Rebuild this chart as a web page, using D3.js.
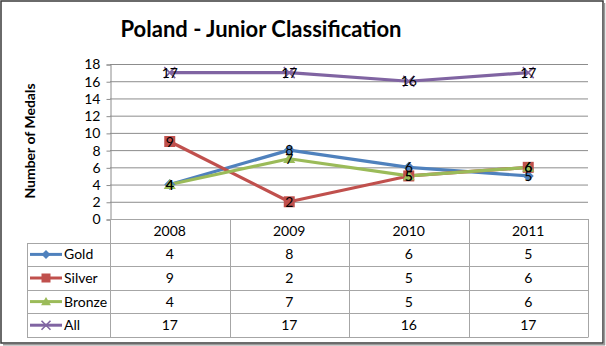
<!DOCTYPE html>
<html><head><meta charset="utf-8">
<script src="https://cdn.jsdelivr.net/npm/d3@7"></script>
<style>body{margin:0;background:#fff}svg{display:block}</style>
</head><body>
<script>
const title = "Poland - Junior Classification";
const yTitle = "Number of Medals";
const years = ["2008","2009","2010","2011"];
const seriesNames = ["Gold","Silver","Bronze","All"];
const gold = [4,8,6,5];
const silver = [9,2,5,6];
const bronze = [4,7,5,6];
const all = [17,17,16,17];
const yTicks = [0,2,4,6,8,10,12,14,16,18];
const colors = ["#4F81BD","#C0504D","#9BBB59","#8064A2"];
const markers = ["diamond","square","triangle","x"];
const seriesValues = [gold, silver, bronze, all];

const W=606,H=346;
const font = "Lato, 'Open Sans', sans-serif";
const svg = d3.select("body").append("svg").attr("width",W).attr("height",H);
svg.append("rect").attr("width",W).attr("height",H).attr("fill","#fff");
// frame
svg.append("rect").attr("x",1).attr("y",1).attr("width",602).attr("height",342)
  .attr("fill","none").attr("stroke","#3a3a3a").attr("stroke-width",1.5);
svg.append("line").attr("x1",604.5).attr("x2",604.5).attr("y1",3).attr("y2",345).attr("stroke","#9a9a9a").attr("stroke-width",1.5);
svg.append("line").attr("x1",3).attr("x2",605).attr("y1",344.8).attr("y2",344.8).attr("stroke","#9a9a9a").attr("stroke-width",1.5);

const x = d3.scaleBand().domain(years).range([110,588]);
const y = d3.scaleLinear().domain([0,18]).range([219,64]);

svg.append("text").attr("x",261).attr("y",37).attr("text-anchor","middle")
  .attr("font-family",font).attr("font-weight","bold").attr("font-size",22).text(title);

svg.append("text").attr("transform","translate(35,141) rotate(-90)").attr("text-anchor","middle")
  .attr("font-family",font).attr("font-weight","bold").attr("font-size",14).text(yTitle);

// gridlines
svg.append("g").selectAll("line").data(yTicks.filter(d=>d>0)).join("line")
  .attr("x1",110).attr("x2",588).attr("y1",d=>y(d)+0.5).attr("y2",d=>y(d)+0.5)
  .attr("stroke","#8c8c8c").attr("stroke-width",1);

// y axis
const yAxis = svg.append("g").attr("transform","translate(110.5,0.5)")
  .call(d3.axisLeft(y).tickValues(yTicks).tickSize(4).tickPadding(6).tickFormat(d3.format("d")));
yAxis.select(".domain").attr("stroke","#8c8c8c");
yAxis.selectAll(".tick line").attr("stroke","#8c8c8c");
yAxis.selectAll("text").attr("font-family",font).attr("font-size",14).attr("fill","#000");

// table
const rowH = 23.6;
const tTop = 219;
const tg = svg.append("g");
const gridC = "#a6a6a6";
const rowYs = d3.range(6).map(i=>tTop+i*rowH);
rowYs.forEach((ry,i)=>{
  tg.append("line").attr("x1", i===0?110:27).attr("x2",588).attr("y1",Math.round(ry)+0.5).attr("y2",Math.round(ry)+0.5)
    .attr("stroke",gridC);
});
tg.append("line").attr("x1",27.5).attr("x2",27.5).attr("y1",Math.round(rowYs[1])).attr("y2",Math.round(rowYs[5])+0.5).attr("stroke",gridC);
years.concat(["end"]).forEach((yr,i)=>{
  const xx = Math.round(110 + i*x.bandwidth())+0.5;
  tg.append("line").attr("x1",xx).attr("x2",xx).attr("y1",tTop).attr("y2",Math.round(rowYs[5])+0.5).attr("stroke",gridC);
});
tg.selectAll("text.hd").data(years).join("text").attr("class","hd")
  .attr("x",d=>x(d)+x.bandwidth()/2).attr("y",tTop+rowH/2+5).attr("text-anchor","middle")
  .attr("font-family",font).attr("font-size",14).text(d=>d);

function marker(g, type, cx, cy, color, s){
  if(type==="diamond"){
    g.append("path").attr("d",`M${cx},${cy-s}L${cx+s},${cy}L${cx},${cy+s}L${cx-s},${cy}Z`).attr("fill",color);
  } else if(type==="square"){
    g.append("rect").attr("x",cx-s).attr("y",cy-s).attr("width",2*s).attr("height",2*s).attr("fill",color);
  } else if(type==="triangle"){
    g.append("path").attr("d",`M${cx},${cy-s}L${cx+s*1.1},${cy+s*0.8}L${cx-s*1.1},${cy+s*0.8}Z`).attr("fill",color);
  } else {
    g.append("path").attr("d",`M${cx-s},${cy-s}L${cx+s},${cy+s}M${cx-s},${cy+s}L${cx+s},${cy-s}`).attr("stroke",color).attr("stroke-width",1.6);
  }
}

seriesNames.forEach((name,i)=>{
  const cy = rowYs[i+1]+rowH/2;
  tg.append("line").attr("x1",30).attr("x2",62).attr("y1",cy).attr("y2",cy).attr("stroke",colors[i]).attr("stroke-width",3);
  marker(tg, markers[i], 46, cy, colors[i], 4.5);
  tg.append("text").attr("x",64).attr("y",cy+5).attr("font-family",font).attr("font-size",14).text(name);
  tg.selectAll(null).data(seriesValues[i]).join("text")
    .attr("x",(d,j)=>x(years[j])+x.bandwidth()/2).attr("y",cy+5).attr("text-anchor","middle")
    .attr("font-family",font).attr("font-size",14).text(d=>d);
});

const line = d3.line().x((d,j)=>x(years[j])+x.bandwidth()/2).y(d=>y(d));
const lg = svg.append("g");
seriesValues.forEach((vals,i)=>{
  lg.append("path").datum(vals).attr("d",line).attr("fill","none").attr("stroke",colors[i]).attr("stroke-width",3.2).attr("stroke-linejoin","round");
});
seriesValues.forEach((vals,i)=>{
  vals.forEach((v,j)=>{
    marker(lg, markers[i], x(years[j])+x.bandwidth()/2, y(v), colors[i], 5.5);
  });
});
seriesValues.forEach((vals,i)=>{
  lg.selectAll(null).data(vals).join("text")
    .attr("x",(d,j)=>x(years[j])+x.bandwidth()/2).attr("y",d=>y(d)+5).attr("text-anchor","middle")
    .attr("font-family",font).attr("font-size",14).attr("fill","#000").text(d=>d);
});
</script>
</body></html>
